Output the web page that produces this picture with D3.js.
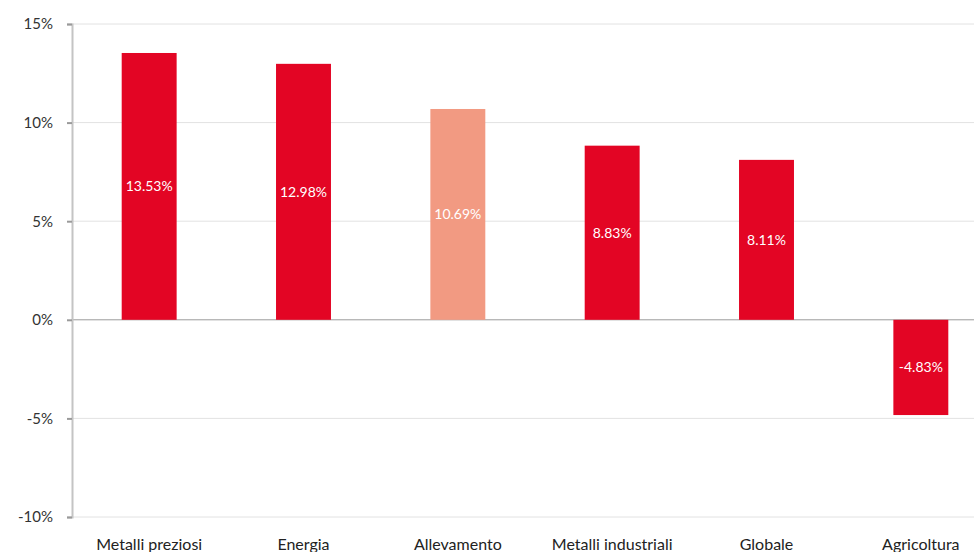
<!DOCTYPE html>
<html>
<head>
<meta charset="utf-8">
<script src="https://cdn.jsdelivr.net/npm/d3@7"></script>
<style>
  body { margin: 0; background: #fff; font-family: 'Lato', 'Noto Sans', sans-serif; }
  svg { display: block; }
</style>
</head>
<body>
<script>
let categories = ['Metalli preziosi', 'Energia', 'Allevamento', 'Metalli industriali', 'Globale', 'Agricoltura'];
let values = [13.53, 12.98, 10.69, 8.83, 8.11, -4.83];
let highlight = ['Allevamento'];
let yTicks = [-10, -5, 0, 5, 10, 15];

let W = 974, H = 552;
let margin = {left: 72, top: 24, right: -24, bottom: 35};
let width = W - margin.left - margin.right;
let height = H - margin.top - margin.bottom;

let svg = d3.select('body').append('svg')
  .attr('width', W)
  .attr('height', H);

let g = svg.append('g')
  .attr('transform', 'translate(' + margin.left + ',' + margin.top + ')');

let x = d3.scaleBand().domain(categories).range([0, width])
  .paddingInner(0.644).paddingOuter(0.322);
let y = d3.scaleLinear().domain([-10, 15]).range([height, 0]);

// grid
g.append('g').selectAll('line')
  .data(yTicks)
  .enter().append('line')
  .attr('x1', 0).attr('x2', width)
  .attr('y1', d => y(d)).attr('y2', d => y(d))
  .attr('stroke', d => d === 0 ? '#9a9a9a' : '#e2e2e2')
  .attr('stroke-width', 1);

// bars
g.append('g').selectAll('rect')
  .data(categories)
  .enter().append('rect')
  .attr('x', d => x(d))
  .attr('width', x.bandwidth())
  .attr('y', (d, i) => y(Math.max(0, values[i])))
  .attr('height', (d, i) => Math.abs(y(values[i]) - y(0)))
  .attr('fill', d => highlight.includes(d) ? '#f29a82' : '#e30524');

// value labels
g.append('g').selectAll('text')
  .data(categories)
  .enter().append('text')
  .attr('x', d => x(d) + x.bandwidth() / 2)
  .attr('y', (d, i) => (y(values[i]) + y(0)) / 2)
  .attr('dy', '0.35em')
  .attr('text-anchor', 'middle')
  .attr('fill', '#fff')
  .attr('font-size', 14)
  .text((d, i) => values[i].toFixed(2) + '%');

// y axis
let yAxis = g.append('g')
  .call(d3.axisLeft(y).tickValues(yTicks).tickSize(5).tickPadding(14).tickFormat(d => d + '%'));
yAxis.select('.domain').attr('stroke', '#c4c4c4').attr('stroke-width', 2);
yAxis.selectAll('.tick line').attr('stroke', '#9a9a9a').attr('stroke-width', 2);
yAxis.selectAll('.tick text').attr('fill', '#333').attr('font-size', 15)
  .attr('font-family', "'Lato', 'Noto Sans', sans-serif");

// x labels
let xAxis = g.append('g')
  .attr('transform', 'translate(0,' + height + ')')
  .call(d3.axisBottom(x).tickSize(0).tickPadding(22));
xAxis.select('.domain').remove();
xAxis.selectAll('.tick text').attr('fill', '#222').attr('font-size', 16)
  .attr('font-family', "'Lato', 'Noto Sans', sans-serif");
</script>
</body>
</html>
